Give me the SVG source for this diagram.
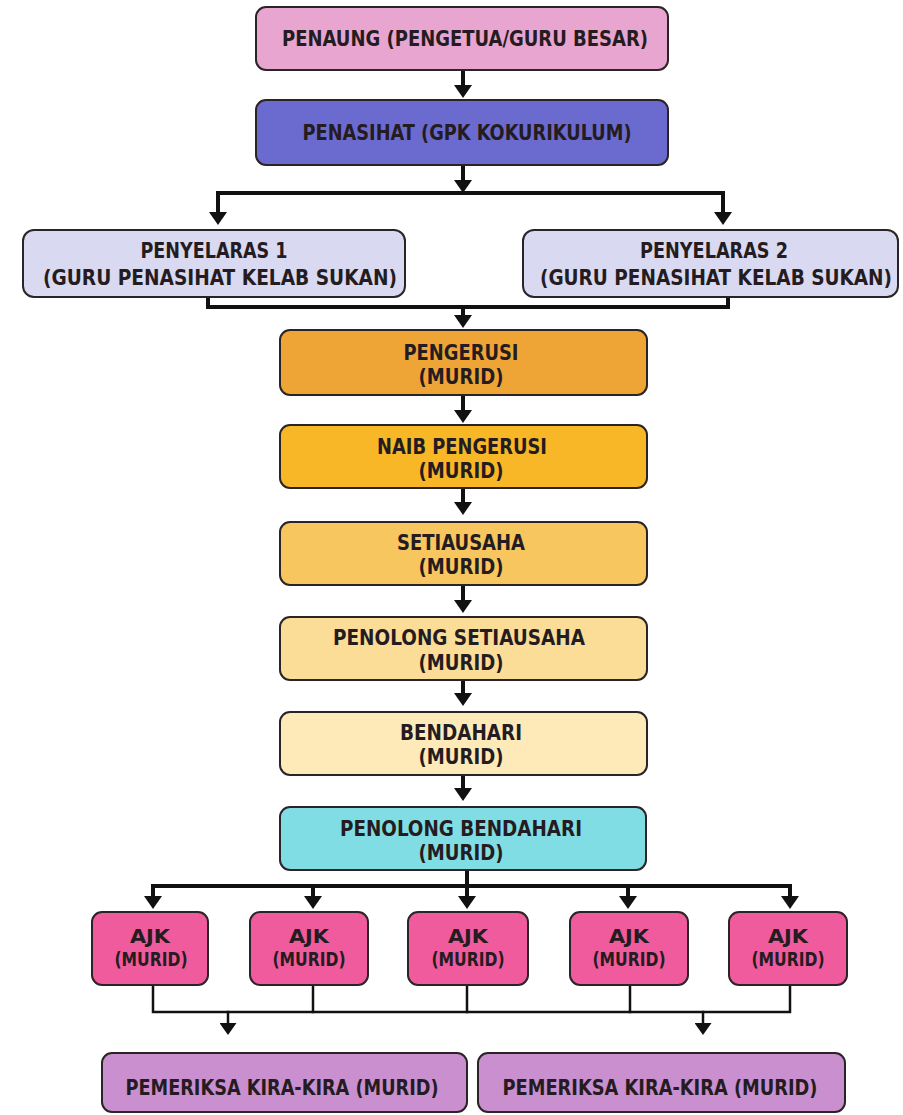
<svg xmlns="http://www.w3.org/2000/svg" width="903" height="1115" viewBox="0 0 903 1115">
  <style>
    .box { stroke: #2b2426; stroke-width: 2; }
    .lbl { font-family: "Liberation Sans Narrow", "DejaVu Sans Condensed", "Liberation Sans", Arial, sans-serif; font-weight: bold; font-size: 21px; fill: #241c20; text-anchor: middle; }
    .sm { font-size: 19px; }
    .wire { fill: none; stroke: #111; stroke-width: 4; stroke-linecap: square; }
    .thin { fill: none; stroke: #111; stroke-width: 2.5; stroke-linecap: square; }
  </style>
  <defs>
    <marker id="head" viewBox="0 0 13 18" refX="0" refY="9" markerWidth="13" markerHeight="18" markerUnits="userSpaceOnUse" orient="auto">
      <path d="M0,0 L13,9 L0,18 Z" fill="#111"/>
    </marker>
    <marker id="headSmall" viewBox="0 0 12 17" refX="0" refY="8.5" markerWidth="12" markerHeight="17" markerUnits="userSpaceOnUse" orient="auto">
      <path d="M0,0 L12,8.5 L0,17 Z" fill="#111"/>
    </marker>
  </defs>

  <rect width="903" height="1115" fill="#ffffff"/>

  <!-- connectors -->
  <g id="connectors">
    <line class="wire" x1="463" y1="70" x2="463" y2="85" marker-end="url(#head)"/>
    <line class="wire" x1="463" y1="165" x2="463" y2="180" marker-end="url(#head)"/>
    <polyline class="wire" points="218,211 218,193 723,193 723,211"/>
    <line class="wire" x1="218" y1="205" x2="218" y2="212" marker-end="url(#head)"/>
    <line class="wire" x1="723" y1="205" x2="723" y2="212" marker-end="url(#head)"/>
    <polyline class="wire" points="208,297 208,307 728,307 728,297"/>
    <line class="wire" x1="463" y1="307" x2="463" y2="315" marker-end="url(#head)"/>
    <line class="wire" x1="463" y1="395" x2="463" y2="410" marker-end="url(#head)"/>
    <line class="wire" x1="463" y1="488" x2="463" y2="502" marker-end="url(#head)"/>
    <line class="wire" x1="463" y1="585" x2="463" y2="600" marker-end="url(#head)"/>
    <line class="wire" x1="463" y1="680" x2="463" y2="693" marker-end="url(#head)"/>
    <line class="wire" x1="463" y1="775" x2="463" y2="788" marker-end="url(#head)"/>
    <line class="wire" x1="467" y1="870" x2="467" y2="886"/>
    <polyline class="wire" points="153,896 153,886 790,886 790,896"/>
    <line class="wire" x1="153" y1="886" x2="153" y2="896" marker-end="url(#head)"/>
    <line class="wire" x1="313" y1="886" x2="313" y2="896" marker-end="url(#head)"/>
    <line class="wire" x1="467" y1="886" x2="467" y2="896" marker-end="url(#head)"/>
    <line class="wire" x1="628" y1="886" x2="628" y2="896" marker-end="url(#head)"/>
    <line class="wire" x1="790" y1="886" x2="790" y2="896" marker-end="url(#head)"/>
    <polyline class="thin" points="153,985 153,1012 790,1012 790,985"/>
    <line class="thin" x1="313" y1="985" x2="313" y2="1012"/>
    <line class="thin" x1="467" y1="985" x2="467" y2="1012"/>
    <line class="thin" x1="630" y1="985" x2="630" y2="1012"/>
    <line class="thin" x1="228" y1="1012" x2="228" y2="1023" marker-end="url(#headSmall)"/>
    <line class="thin" x1="703" y1="1012" x2="703" y2="1023" marker-end="url(#headSmall)"/>
  </g>

  <g id="penaung">
    <rect class="box" x="256" y="7" width="412" height="63" rx="10" fill="#e8a5cf"/>
    <text class="lbl" x="465" y="46" textLength="366" lengthAdjust="spacingAndGlyphs">PENAUNG (PENGETUA/GURU BESAR)</text>
  </g>

  <g id="penasihat">
    <rect class="box" x="256" y="100" width="412" height="65" rx="10" fill="#6b6bcf"/>
    <text class="lbl" x="467" y="140" textLength="329" lengthAdjust="spacingAndGlyphs">PENASIHAT (GPK KOKURIKULUM)</text>
  </g>

  <g id="penyelaras1">
    <rect class="box" x="23" y="230" width="382" height="67" rx="11" fill="#d9d9f1"/>
    <text class="lbl" x="214" y="258" textLength="147" lengthAdjust="spacingAndGlyphs">PENYELARAS 1</text>
    <text class="lbl" x="220" y="285" textLength="354" lengthAdjust="spacingAndGlyphs">(GURU PENASIHAT KELAB SUKAN)</text>
  </g>

  <g id="penyelaras2">
    <rect class="box" x="523" y="230" width="375" height="67" rx="11" fill="#d9d9f1"/>
    <text class="lbl" x="714" y="258" textLength="148" lengthAdjust="spacingAndGlyphs">PENYELARAS 2</text>
    <text class="lbl" x="716" y="285" textLength="352" lengthAdjust="spacingAndGlyphs">(GURU PENASIHAT KELAB SUKAN)</text>
  </g>

  <g id="pengerusi">
    <rect class="box" x="280" y="330" width="367" height="65" rx="10" fill="#eea536"/>
    <text class="lbl" x="461" y="360" textLength="115" lengthAdjust="spacingAndGlyphs">PENGERUSI</text>
    <text class="lbl" x="461" y="384" textLength="85" lengthAdjust="spacingAndGlyphs">(MURID)</text>
  </g>

  <g id="naib-pengerusi">
    <rect class="box" x="280" y="425" width="367" height="63" rx="10" fill="#f7b727"/>
    <text class="lbl" x="462" y="454" textLength="170" lengthAdjust="spacingAndGlyphs">NAIB PENGERUSI</text>
    <text class="lbl" x="461" y="478" textLength="85" lengthAdjust="spacingAndGlyphs">(MURID)</text>
  </g>

  <g id="setiausaha">
    <rect class="box" x="280" y="522" width="367" height="63" rx="10" fill="#f7c65e"/>
    <text class="lbl" x="461" y="550" textLength="128" lengthAdjust="spacingAndGlyphs">SETIAUSAHA</text>
    <text class="lbl" x="461" y="574" textLength="85" lengthAdjust="spacingAndGlyphs">(MURID)</text>
  </g>

  <g id="penolong-setiausaha">
    <rect class="box" x="280" y="617" width="367" height="63" rx="10" fill="#fbdd98"/>
    <text class="lbl" x="459" y="645" textLength="252" lengthAdjust="spacingAndGlyphs">PENOLONG SETIAUSAHA</text>
    <text class="lbl" x="461" y="670" textLength="85" lengthAdjust="spacingAndGlyphs">(MURID)</text>
  </g>

  <g id="bendahari">
    <rect class="box" x="280" y="712" width="367" height="63" rx="10" fill="#fdeab8"/>
    <text class="lbl" x="461" y="740" textLength="122" lengthAdjust="spacingAndGlyphs">BENDAHARI</text>
    <text class="lbl" x="461" y="764" textLength="85" lengthAdjust="spacingAndGlyphs">(MURID)</text>
  </g>

  <g id="penolong-bendahari">
    <rect class="box" x="280" y="807" width="366" height="63" rx="10" fill="#80dde3"/>
    <text class="lbl" x="461" y="836" textLength="242" lengthAdjust="spacingAndGlyphs">PENOLONG BENDAHARI</text>
    <text class="lbl" x="461" y="860" textLength="85" lengthAdjust="spacingAndGlyphs">(MURID)</text>
  </g>

  <g id="ajk1">
    <rect class="box" x="92" y="912" width="116" height="73" rx="10" fill="#ef5b9c"/>
    <text class="lbl sm" x="150" y="943" textLength="40" lengthAdjust="spacingAndGlyphs">AJK</text>
    <text class="lbl sm" x="151" y="966" textLength="73" lengthAdjust="spacingAndGlyphs">(MURID)</text>
  </g>
  <g id="ajk2">
    <rect class="box" x="250" y="912" width="118" height="73" rx="10" fill="#ef5b9c"/>
    <text class="lbl sm" x="309" y="943" textLength="40" lengthAdjust="spacingAndGlyphs">AJK</text>
    <text class="lbl sm" x="309" y="966" textLength="73" lengthAdjust="spacingAndGlyphs">(MURID)</text>
  </g>
  <g id="ajk3">
    <rect class="box" x="408" y="912" width="120" height="73" rx="10" fill="#ef5b9c"/>
    <text class="lbl sm" x="468" y="943" textLength="40" lengthAdjust="spacingAndGlyphs">AJK</text>
    <text class="lbl sm" x="468" y="966" textLength="73" lengthAdjust="spacingAndGlyphs">(MURID)</text>
  </g>
  <g id="ajk4">
    <rect class="box" x="570" y="912" width="118" height="73" rx="10" fill="#ef5b9c"/>
    <text class="lbl sm" x="629" y="943" textLength="40" lengthAdjust="spacingAndGlyphs">AJK</text>
    <text class="lbl sm" x="629" y="966" textLength="73" lengthAdjust="spacingAndGlyphs">(MURID)</text>
  </g>
  <g id="ajk5">
    <rect class="box" x="729" y="912" width="118" height="73" rx="10" fill="#ef5b9c"/>
    <text class="lbl sm" x="788" y="943" textLength="40" lengthAdjust="spacingAndGlyphs">AJK</text>
    <text class="lbl sm" x="788" y="966" textLength="73" lengthAdjust="spacingAndGlyphs">(MURID)</text>
  </g>

  <g id="pemeriksa1">
    <rect class="box" x="102" y="1053" width="365" height="59" rx="10" fill="#c98fcf"/>
    <text class="lbl" x="282" y="1095" textLength="313" lengthAdjust="spacingAndGlyphs">PEMERIKSA KIRA-KIRA (MURID)</text>
  </g>
  <g id="pemeriksa2">
    <rect class="box" x="478" y="1053" width="367" height="59" rx="10" fill="#c98fcf"/>
    <text class="lbl" x="660" y="1095" textLength="315" lengthAdjust="spacingAndGlyphs">PEMERIKSA KIRA-KIRA (MURID)</text>
  </g>
</svg>
